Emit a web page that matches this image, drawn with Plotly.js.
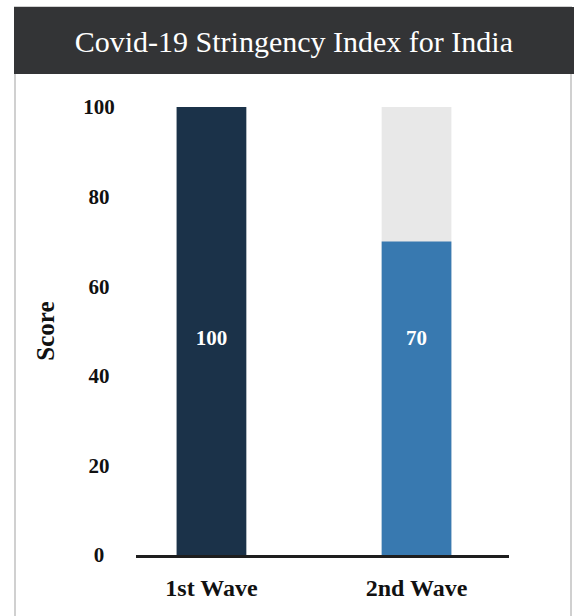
<!DOCTYPE html>
<html><head><meta charset="utf-8">
<script src="https://cdn.plot.ly/plotly-3.0.1.min.js"></script>
<style>
html,body{margin:0;padding:0;background:#fff;}
#wrap{position:relative;width:574px;height:616px;overflow:hidden;}
#card{position:absolute;left:14px;top:6px;width:558px;height:640px;border:2px solid #d0d0d0;box-sizing:border-box;}
#head{position:absolute;left:14px;top:7px;width:560px;height:67px;background:#333436;}
#chart{position:absolute;left:0;top:0;width:574px;height:616px;}
</style></head>
<body>
<div id="wrap"><div id="card"></div><div id="head"></div><div id="chart"></div></div>
<script>
const categories = ["1st Wave", "2nd Wave"];
const scores = [100, 70];
const maxScore = 100;
const barColors = ["#1b3249", "#3879b0"];
const tickVals = [0, 20, 40, 60, 80, 100];
const tickText = ["0\u2007", "20\u2008", "40\u2008", "60\u2008", "80\u2008", "100"];

const serif = "Liberation Serif, DejaVu Serif, serif";

const track = {
  type: "bar", x: categories, y: categories.map(() => maxScore),
  marker: {color: "#e8e8e8"}, width: 0.34, hoverinfo: "skip", showlegend: false
};
const bars = {
  type: "bar", x: categories, y: scores,
  marker: {color: barColors}, width: 0.34, showlegend: false
};
const labels = {
  type: "scatter", mode: "text", x: categories,
  y: categories.map(() => maxScore * 0.48),
  text: scores.map(String),
  textfont: {family: serif, size: 21, color: "#ffffff", weight: "bold"},
  hoverinfo: "skip", showlegend: false
};

const layout = {
  width: 574, height: 616,
  margin: {l: 136, r: 65, t: 107, b: 61},
  paper_bgcolor: "rgba(0,0,0,0)", plot_bgcolor: "rgba(0,0,0,0)",
  barmode: "overlay",
  title: {
    text: "Covid-19 Stringency Index for India",
    font: {family: serif, size: 30, color: "#ffffff"},
    x: 0.512, xanchor: "center", y: 1 - 41/616, yanchor: "middle", yref: "container"
  },
  xaxis: {
    range: [-0.368, 1.451], showline: true, linecolor: "#1e1e1e", linewidth: 3,
    showgrid: false, zeroline: false,
    ticks: "outside", ticklen: 9, tickcolor: "rgba(0,0,0,0)",
    tickfont: {family: serif, size: 24, color: "#111", weight: "bold"}
  },
  yaxis: {
    range: [0, 100], showline: false, showgrid: false, zeroline: false,
    tickvals: tickVals, ticktext: tickText,
    ticks: "outside", ticklen: 16, tickcolor: "rgba(0,0,0,0)",
    tickfont: {family: serif, size: 21, color: "#111", weight: "bold"},
    title: {text: "Score", standoff: 21, font: {family: serif, size: 25, color: "#111", weight: "bold"}}
  }
};

Plotly.newPlot("chart", [track, bars, labels], layout, {displayModeBar: false, staticPlot: true});
</script>
</body></html>
